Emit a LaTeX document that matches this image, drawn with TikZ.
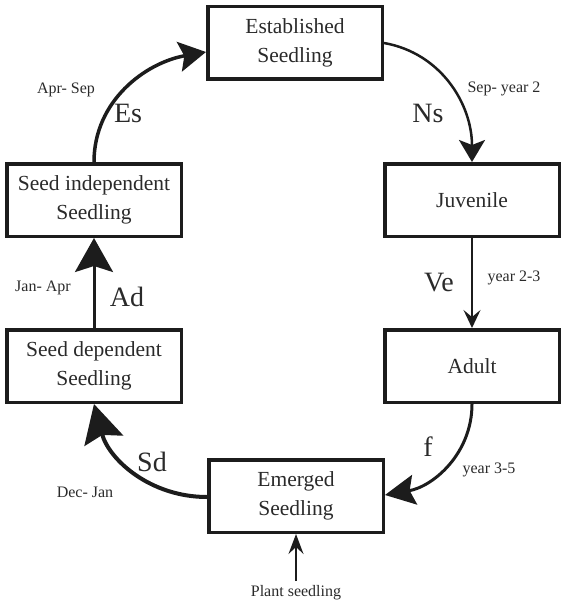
\documentclass[tikz,border=0pt]{standalone}
\usepackage{fontspec}
\setmainfont{Liberation Serif}
\usetikzlibrary{arrows.meta}
\definecolor{ink}{HTML}{1C1C1C}
\definecolor{txt}{HTML}{2A2A2A}
\begin{document}
\begin{tikzpicture}[x=1pt,y=1pt,
  stage/.style={draw=ink, line width=3.5pt, minimum width=174.5pt, minimum height=72.5pt,
    inner sep=0pt, align=center, text=txt, font=\fontsize{21.5}{29}\selectfont},
  rate/.style={text=txt, font=\fontsize{28}{30}\selectfont, inner sep=0pt},
  period/.style={text=txt, font=\fontsize{16}{18}\selectfont, inner sep=0pt},
  conn/.style={draw=ink, line cap=butt},
]
\useasboundingbox (0,0) rectangle (566,-607);

% stages
\node[stage] (estab)  at (295,-43)  {Established\\Seedling};
\node[stage] (sindep) at (94,-200)  {Seed independent\\Seedling};
\node[stage] (juv)    at (472,-200) {Juvenile};
\node[stage] (sdep)   at (94,-366)  {Seed dependent\\Seedling};
\node[stage] (adult)  at (472,-366) {Adult};
\node[stage] (emerg)  at (296,-496) {Emerged\\Seedling};
\coordinate (plant) at (296,-581);

% connectors
\draw[conn, line width=3.5pt, -{Stealth[length=27pt,width=30pt,inset=5pt]}]
  (sindep.north) to[out=90,in=190] ([yshift=-9pt]estab.west);
\draw[conn, line width=2.5pt, -{Stealth[length=22pt,width=26pt,inset=5pt]}]
  (estab.east) to[out=-10,in=90] (juv.north);
\draw[conn, line width=1.8pt, -{Stealth[length=18pt,width=17pt,inset=7pt]}]
  (juv.south) -- (adult.north);
\draw[conn, line width=3pt, -{Stealth[length=30pt,width=30pt,inset=5pt]}]
  (adult.south) to[out=-90,in=10] ([yshift=1pt]emerg.east);
\draw[conn, line width=4pt, -{Stealth[length=38pt,width=40pt,inset=6pt]}]
  ([yshift=-1pt]emerg.west) to[out=180,in=-75] (sdep.south);
\draw[conn, line width=3pt, -{Stealth[length=34pt,width=38pt,inset=6pt]}]
  (sdep.north) -- (sindep.south);
\draw[conn, line width=1.8pt, -{Stealth[length=20pt,width=15pt,inset=7pt]}]
  (plant) -- (emerg.south);

% labels
\node[period] (l1) at (66,-90)   {Apr- Sep};
\node[rate]   (r1) at (128,-113) {Es};
\node[period] (l2) at (504,-89)  {Sep- year 2};
\node[rate]   (r2) at (428,-113) {Ns};
\node[period] (l3) at (43,-288)  {Jan- Apr};
\node[rate]   (r3) at (127,-297) {Ad};
\node[rate]   (r4) at (439,-283) {Ve};
\node[period] (l4) at (514,-278) {year 2-3};
\node[rate]   (r5) at (428,-447) {f};
\node[period] (l5) at (489,-470) {year 3-5};
\node[rate]   (r6) at (152,-462) {Sd};
\node[period] (l6) at (85,-492)  {Dec- Jan};
\node[period] (l7) at (296,-593) {Plant seedling};
\end{tikzpicture}
\end{document}
